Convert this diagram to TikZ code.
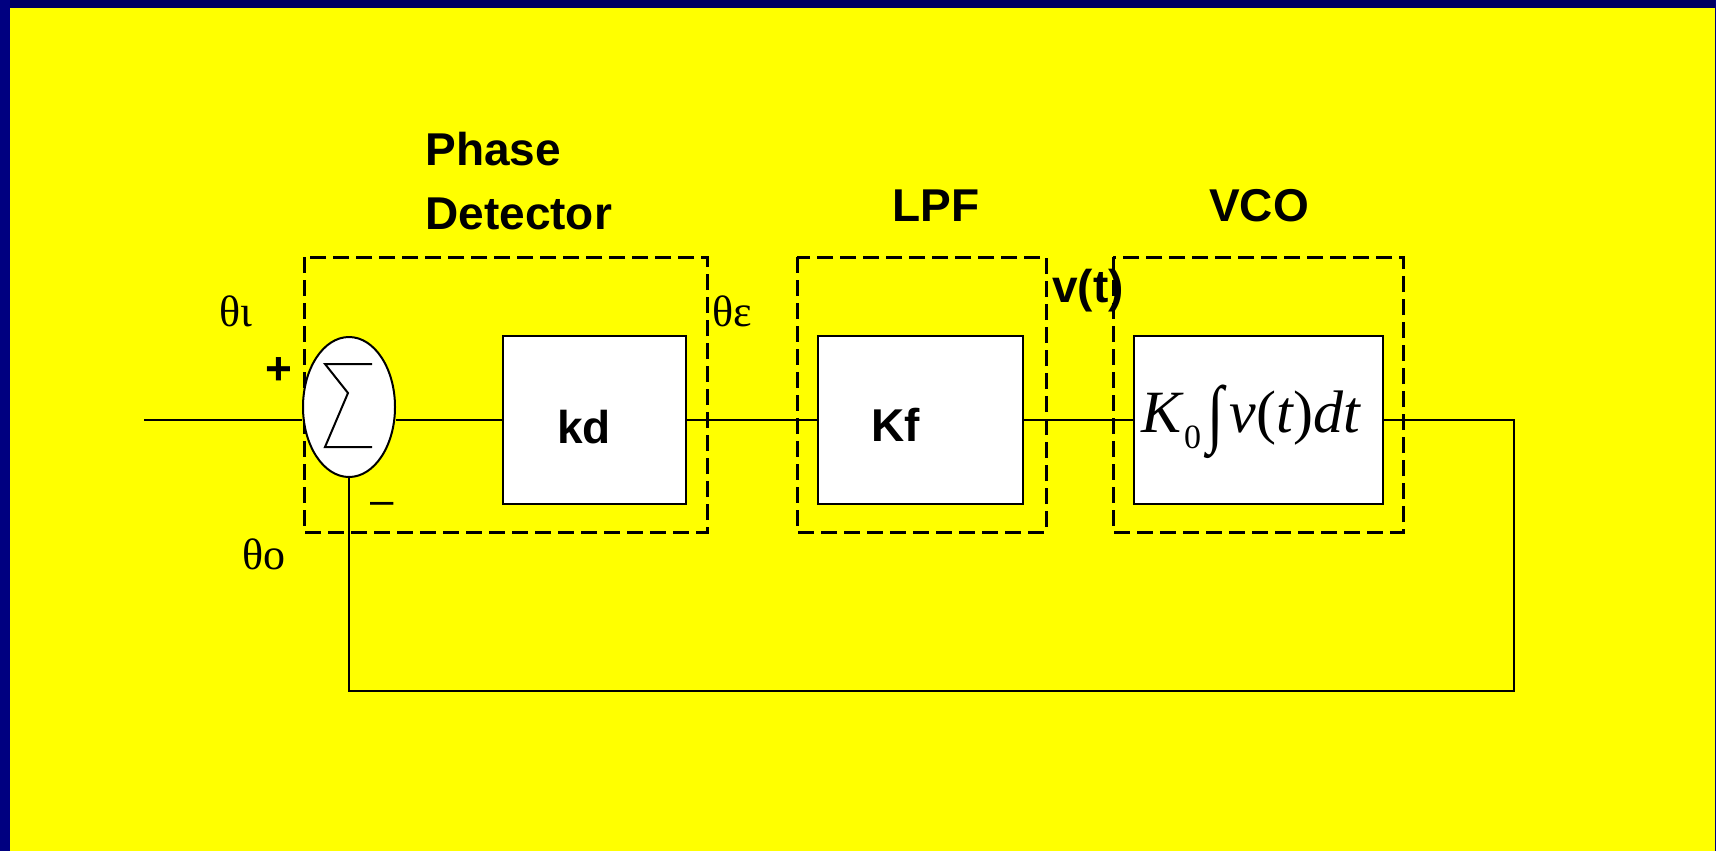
\documentclass[tikz,border=0pt]{standalone}
\usepackage{fontspec}
\setmainfont{Liberation Sans}
\newfontfamily\serifgr{Liberation Serif}
\usetikzlibrary{shapes.geometric}
\definecolor{bgyellow}{RGB}{255,255,0}
\definecolor{navytop}{RGB}{0,0,96}
\definecolor{navyleft}{RGB}{0,0,128}
\tikzset{
  blk/.style={draw=black, line width=1pt, fill=white, minimum width=#1, minimum height=84pt, inner sep=0pt},
  grp/.style={draw=black, line width=1.5pt, dash pattern=on 8pt off 3.5pt},
  wire/.style={draw=black, line width=1pt},
  btitle/.style={font=\fontsize{23}{28}\selectfont\bfseries, inner sep=0pt},
  glabel/.style={font=\serifgr\fontsize{22}{26}\selectfont, inner sep=0pt, anchor=base west},
}
\begin{document}
\begin{tikzpicture}[x=0.5pt,y=-0.5pt]
\useasboundingbox (0,0) rectangle (1716,851);
% background
\fill[bgyellow] (0,0) rectangle (1716,851);
\fill[navytop] (0,0) rectangle (1716,8);
\fill[navyleft] (0,0) rectangle (10,851);
\fill[navyleft] (1714.5,0) rectangle (1716,851);

% dashed group frames
\draw[grp] (304,257) rectangle (707,532);
\draw[grp] (797,257) rectangle (1046,532);
\draw[grp] (1113,257) rectangle (1403,532);

% group titles
\node[btitle, anchor=base west] (t1) at (425,165) {Phase};
\node[btitle, anchor=base west] (t2) at (425,229) {Detector};
\node[btitle, anchor=base] (t3) at (936,221) {LPF};
\node[btitle, anchor=base] (t4) at (1259,221) {VCO};

% summing junction
\node[ellipse, draw=black, line width=1pt, fill=white, minimum width=46pt, minimum height=70pt, inner sep=0pt] (sum) at (349,407) {};
\draw[line width=1pt] (372,364) -- (325,364) -- (348,393) -- (325,447) -- (372,447);

% blocks
\node[blk=91.5pt] (kd) at (594.5,420) {};
\node[btitle, anchor=base] (kdl) at (584,443) {kd};
\node[blk=102.5pt] (kf) at (920.5,420) {};
\node[btitle, anchor=base] (kfl) at (896,441) {Kf};
\node[blk=124.5pt] (vco) at (1258.5,420) {};
\node[anchor=base west, inner sep=0pt, font=\serifgr\fontsize{30}{36}\selectfont] (vcol) at (1141,432)
  {\textit{K}\raisebox{-8pt}{\fontsize{17}{20}\selectfont 0}\hspace{3pt}\raisebox{-3pt}{\scalebox{1}[1.25]{∫}}\hspace{3pt}\textit{v}(\textit{t})\textit{dt}};

% connectors
\coordinate (in) at (144,420);
\coordinate (out) at (1514,420);
\coordinate (fb) at (1514,691);
\draw[wire] (in) -- (in -| sum.west);
\draw[wire] (sum.east |- kd.west) -- (kd.west);
\draw[wire] (kd.east) -- (kf.west);
\draw[wire] (kf.east) -- (vco.west);
\draw[wire] (vco.east) -- (out) -- (fb) -- (fb -| sum.south) -- (sum.south);

% signal labels
\node[glabel] (thi) at (219,326) {θι};
\node[glabel] (the) at (712,326) {θε};
\node[glabel] (tho) at (242,569) {θο};
\node[btitle, anchor=base west] (vt) at (1052,302) {v(t)};
\node[btitle, anchor=base] (plus) at (279,384) {+};
\node[anchor=base, inner sep=0pt, font=\fontsize{21}{26}\selectfont] (minus) at (382,514) {–};
\end{tikzpicture}
\end{document}
